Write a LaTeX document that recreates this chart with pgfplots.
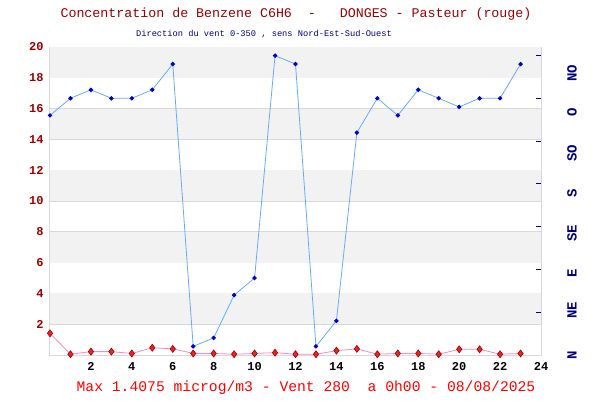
\documentclass[border=0pt]{standalone}
\usepackage{pgfplots}
\pgfplotsset{compat=1.18}
\usepackage{fontspec}
\setmainfont{Liberation Mono}
\setmonofont{Liberation Mono}
\definecolor{titred}{HTML}{990000}
\definecolor{navy}{HTML}{000080}
\definecolor{gridc}{HTML}{D8D8D8}
\definecolor{bandc}{HTML}{F2F2F2}
\definecolor{bline}{HTML}{66AAFF}
\definecolor{bmark}{HTML}{0000CC}
\definecolor{rline}{HTML}{FF88BB}
\definecolor{rmark}{HTML}{EE2222}
\begin{document}
\begin{tikzpicture}[x=1pt,y=1pt]
\useasboundingbox (-50,-45) rectangle (550,355);
\begin{axis}[
  width=491pt, height=308pt, scale only axis,
  xmin=0, xmax=24, ymin=0, ymax=20,
  xtick={2,4,...,24}, ytick={2,4,...,20},
  axis line style={gridc, line width=1pt},
  major tick length=0pt,
  ymajorgrids, grid style={gridc, line width=1pt},
  xticklabel style={font=\fontsize{12}{12}\selectfont\bfseries, black, yshift=-4pt},
  yticklabel style={font=\fontsize{12}{12}\selectfont\bfseries, titred, xshift=-3pt},
  /pgf/number format/assume math mode=true,
  clip=false,
]
% bands
\fill[bandc] (axis cs:0,18) rectangle (axis cs:24,20);
\fill[bandc] (axis cs:0,14) rectangle (axis cs:24,16);
\fill[bandc] (axis cs:0,10) rectangle (axis cs:24,12);
\fill[bandc] (axis cs:0,6) rectangle (axis cs:24,8);
\fill[bandc] (axis cs:0,2) rectangle (axis cs:24,4);
% wind direction (degrees / 18)
\addplot[bline, line width=0.8pt, mark=*, mark size=1.8pt, mark options={fill=bmark, draw=bmark}] coordinates {
(0,15.56) (1,16.67) (2,17.22) (3,16.67) (4,16.67) (5,17.22) (6,18.89) (7,0.56)
(8,1.11) (9,3.89) (10,5.0) (11,19.44) (12,18.89) (13,0.56) (14,2.22) (15,14.44)
(16,16.67) (17,15.56) (18,17.22) (19,16.67) (20,16.11) (21,16.67) (22,16.67) (23,18.89)};
% benzene
\addplot[rline, line width=0.8pt, mark=diamond*, mark size=3.5pt, mark options={fill=rmark, draw=titred, line width=0.6pt}] coordinates {
(0,1.41) (1,0.05) (2,0.22) (3,0.22) (4,0.1) (5,0.47) (6,0.4) (7,0.1)
(8,0.1) (9,0.05) (10,0.1) (11,0.15) (12,0.05) (13,0.05) (14,0.28) (15,0.4)
(16,0.05) (17,0.1) (18,0.1) (19,0.05) (20,0.37) (21,0.37) (22,0.05) (23,0.1)};
\end{axis}
\begin{axis}[
  width=491pt, height=308pt, scale only axis,
  xmin=0, xmax=24, ymin=0, ymax=360,
  axis lines=none,
  ytick=\empty, xtick=\empty,
  clip=false,
]
\foreach \d in {50,100,...,350} {
  \edef\tmp{\noexpand\draw[navy, line width=1pt] (axis cs:23.75,\d) -- (axis cs:24,\d);}\tmp
}
\end{axis}
% right labels
\begin{scope}[every node/.style={navy, rotate=90, font=\fontsize{14}{14}\selectfont\bfseries}]
\node at (522,0) {N};
\node at (522,45) {NE};
\node at (522,82) {E};
\node at (522,122) {SE};
\node at (522,162) {S};
\node at (522,202) {SO};
\node at (522,243) {O};
\node at (522,282) {NO};
\end{scope}
\node[titred, font=\fontsize{13.3}{14}\selectfont] at (246,341) {Concentration de Benzene C6H6\ \ -\ \ \ DONGES - Pasteur (rouge)};
\node[navy, font=\fontsize{8.7}{9}\selectfont] at (214,321) {Direction du vent 0-350 , sens Nord-Est-Sud-Ouest};
\node[red, font=\fontsize{14.7}{15}\selectfont] at (256,-33) {Max 1.4075 microg/m3 - Vent 280\ \ a 0h00 - 08/08/2025};
\end{tikzpicture}
\end{document}
